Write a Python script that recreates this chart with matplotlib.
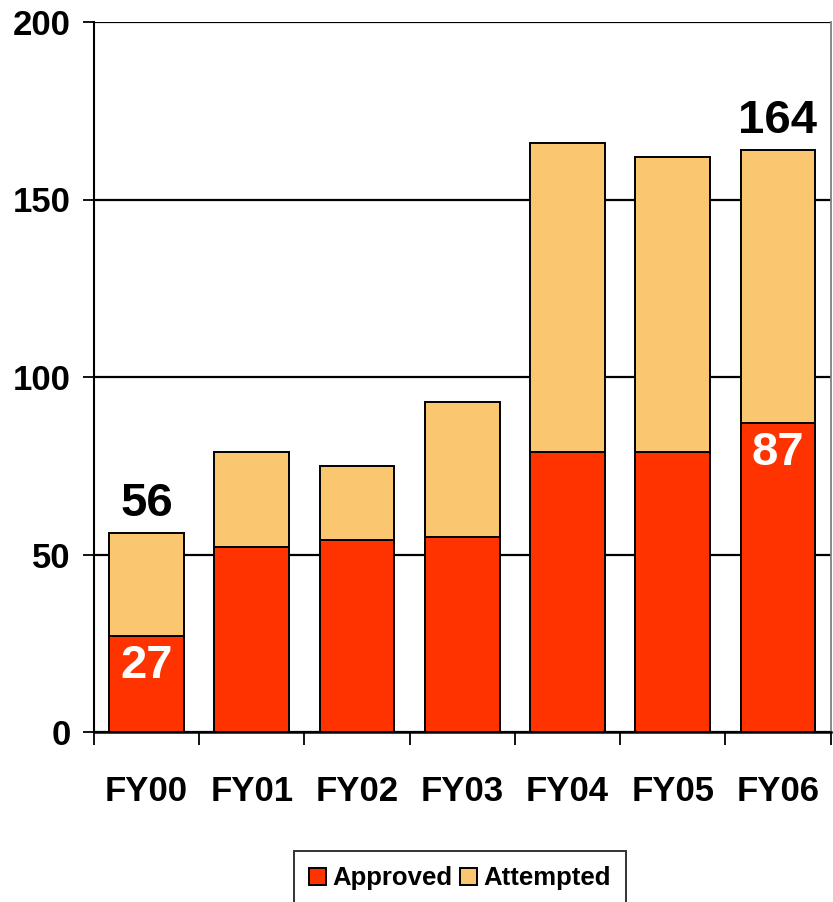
import matplotlib
matplotlib.use("Agg")
import matplotlib.pyplot as plt
import numpy as np
from matplotlib.ticker import FixedLocator

categories = ["FY00", "FY01", "FY02", "FY03", "FY04", "FY05", "FY06"]
approved = [27, 52, 54, 55, 79, 79, 87]
attempted = [29, 27, 21, 38, 87, 83, 77]
yticks = [0, 50, 100, 150, 200]

c_app = "#FF3300"
c_att = "#FAC670"

plt.rcParams["font.family"] = ["Liberation Sans", "DejaVu Sans"]
plt.rcParams["font.weight"] = "bold"

fig = plt.figure(figsize=(8.33, 9.02), dpi=100)
ax = fig.add_axes([94 / 833, 1 - 732 / 902, (830.5 - 94) / 833, (732 - 22) / 902])

x = np.arange(len(categories))
w = 0.71
ax.bar(x, approved, w, color=c_app, edgecolor="black", linewidth=1.4, label="Approved", zorder=3)
ax.bar(x, attempted, w, bottom=approved, color=c_att, edgecolor="black", linewidth=1.4, label="Attempted", zorder=3)

ax.set_xlim(-0.5, len(categories) - 0.5)
ax.set_ylim(0, 200)
ax.set_yticks(yticks)
ax.set_yticklabels([str(v) for v in yticks], fontsize=25, fontweight="bold")
ax.set_xticks(x)
ax.set_xticklabels(categories, fontsize=25, fontweight="bold")
ax.xaxis.set_minor_locator(FixedLocator(np.arange(-0.5, len(categories), 1.0)))
ax.tick_params(axis="x", which="major", length=0, pad=31)
ax.tick_params(axis="x", which="minor", length=9, width=1.3, direction="out")
ax.tick_params(axis="y", length=8, width=1.3, pad=9)

ax.yaxis.grid(True, color="black", linewidth=1.6, zorder=0)
ax.set_axisbelow(True)
ax.spines["top"].set_visible(False)
ax.spines["right"].set_color("#808080")
ax.spines["right"].set_linewidth(1.3)
ax.spines["left"].set_linewidth(1.5)
ax.spines["bottom"].set_linewidth(1.8)

totals = [a + b for a, b in zip(approved, attempted)]
for i in [0, len(categories) - 1]:
    ax.annotate(str(totals[i]), (x[i], totals[i]), xytext=(0, 5), textcoords="offset points",
                ha="center", va="bottom", fontsize=34, fontweight="bold", color="black")
    ax.annotate(str(approved[i]), (x[i], approved[i]), xytext=(0, -6), textcoords="offset points",
                ha="center", va="top", fontsize=34, fontweight="bold", color="white", zorder=5)

leg = fig.legend(loc="upper center", bbox_to_anchor=(460 / 833, 1 - 851 / 902), ncol=2,
                 frameon=True, fancybox=False, handlelength=0.65, handleheight=0.65,
                 handletextpad=0.25, columnspacing=0.3, borderpad=0.6, borderaxespad=0,
                 prop={"weight": "bold", "size": 18.5})
leg.get_frame().set_edgecolor("black")
leg.get_frame().set_linewidth(1.4)

fig.savefig("out.png", dpi=100)
